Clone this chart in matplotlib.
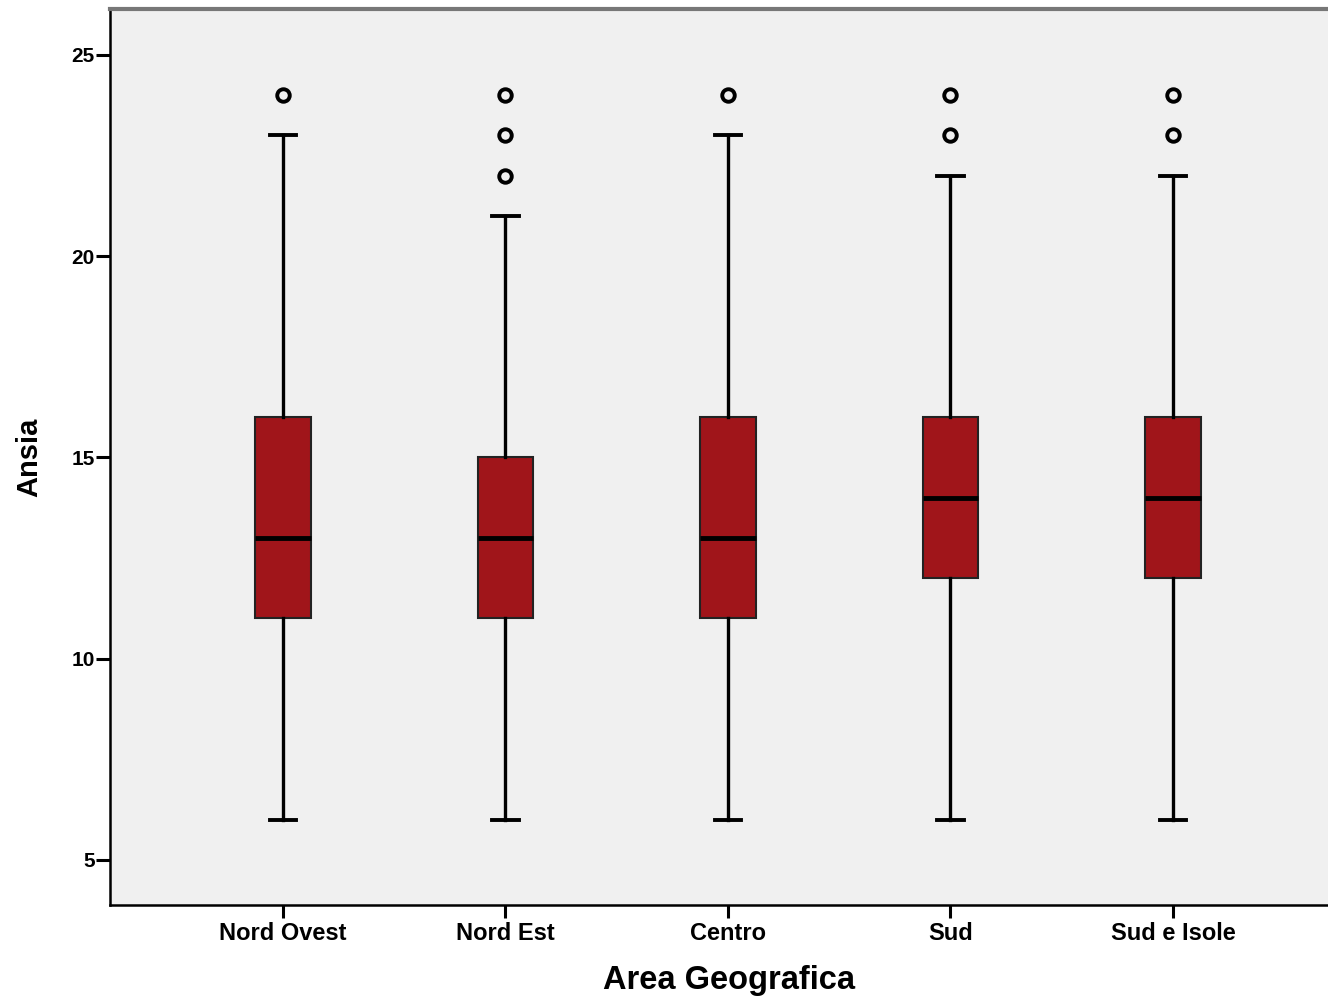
import matplotlib
matplotlib.use("Agg")
import matplotlib.pyplot as plt

categories = ["Nord Ovest", "Nord Est", "Centro", "Sud", "Sud e Isole"]
whislo = [6, 6, 6, 6, 6]
q1 = [11, 11, 11, 12, 12]
med = [13, 13, 13, 14, 14]
q3 = [16, 15, 16, 16, 16]
whishi = [23, 21, 23, 22, 22]
fliers = [[24], [22, 23, 24], [24], [23, 24], [23, 24]]
yticks = [5, 10, 15, 20, 25]

plt.rcParams['font.family'] = ['Liberation Sans', 'DejaVu Sans']

fig = plt.figure(figsize=(13.28, 9.99), dpi=100)
ax = fig.add_axes([110/1328, 1-905/999, 1-110/1328, (905-9)/999])
ax.set_facecolor('#F0F0F0')

stats = []
for i, c in enumerate(categories):
    stats.append(dict(label=c, whislo=whislo[i], q1=q1[i], med=med[i], q3=q3[i],
                      whishi=whishi[i], fliers=fliers[i]))

ax.bxp(stats, positions=range(1, len(categories)+1), widths=0.25, patch_artist=True,
       boxprops=dict(facecolor='#A0151A', edgecolor='#222222', linewidth=1.5),
       medianprops=dict(color='black', linewidth=3.5),
       whiskerprops=dict(color='black', linewidth=2.4),
       capprops=dict(color='black', linewidth=2.8),
       capwidths=0.12,
       flierprops=dict(marker='o', markersize=9, markerfacecolor='none',
                       markeredgecolor='black', markeredgewidth=2.8))

ax.set_xlim(0.2225, 5.697)
ax.set_ylim(3.88, 26.14)
ax.set_yticks(yticks)
ax.set_yticklabels([str(t) for t in yticks], fontweight='bold', fontsize=15)
ax.set_xticks(range(1, len(categories)+1))
ax.set_xticklabels(categories, fontweight='bold', fontsize=17)
ax.tick_params(axis='y', direction='out', length=10, width=2.2, pad=1)
ax.tick_params(axis='x', direction='out', length=9, width=2.2, pad=3)

for s in ['left', 'bottom']:
    ax.spines[s].set_color('black')
    ax.spines[s].set_linewidth(1.8)
ax.spines['right'].set_visible(False)
ax.spines['top'].set_color('#777777')
ax.spines['top'].set_linewidth(3)

ax.set_xlabel('Area Geografica', fontweight='bold', fontsize=23.5)
ax.xaxis.set_label_coords((729-110)/1218, -(981-905)/896, transform=ax.transAxes)
ax.xaxis.label.set_verticalalignment('center')
ax.set_ylabel('Ansia', fontweight='bold', fontsize=21, labelpad=20)

fig.savefig('out.png', dpi=100)
